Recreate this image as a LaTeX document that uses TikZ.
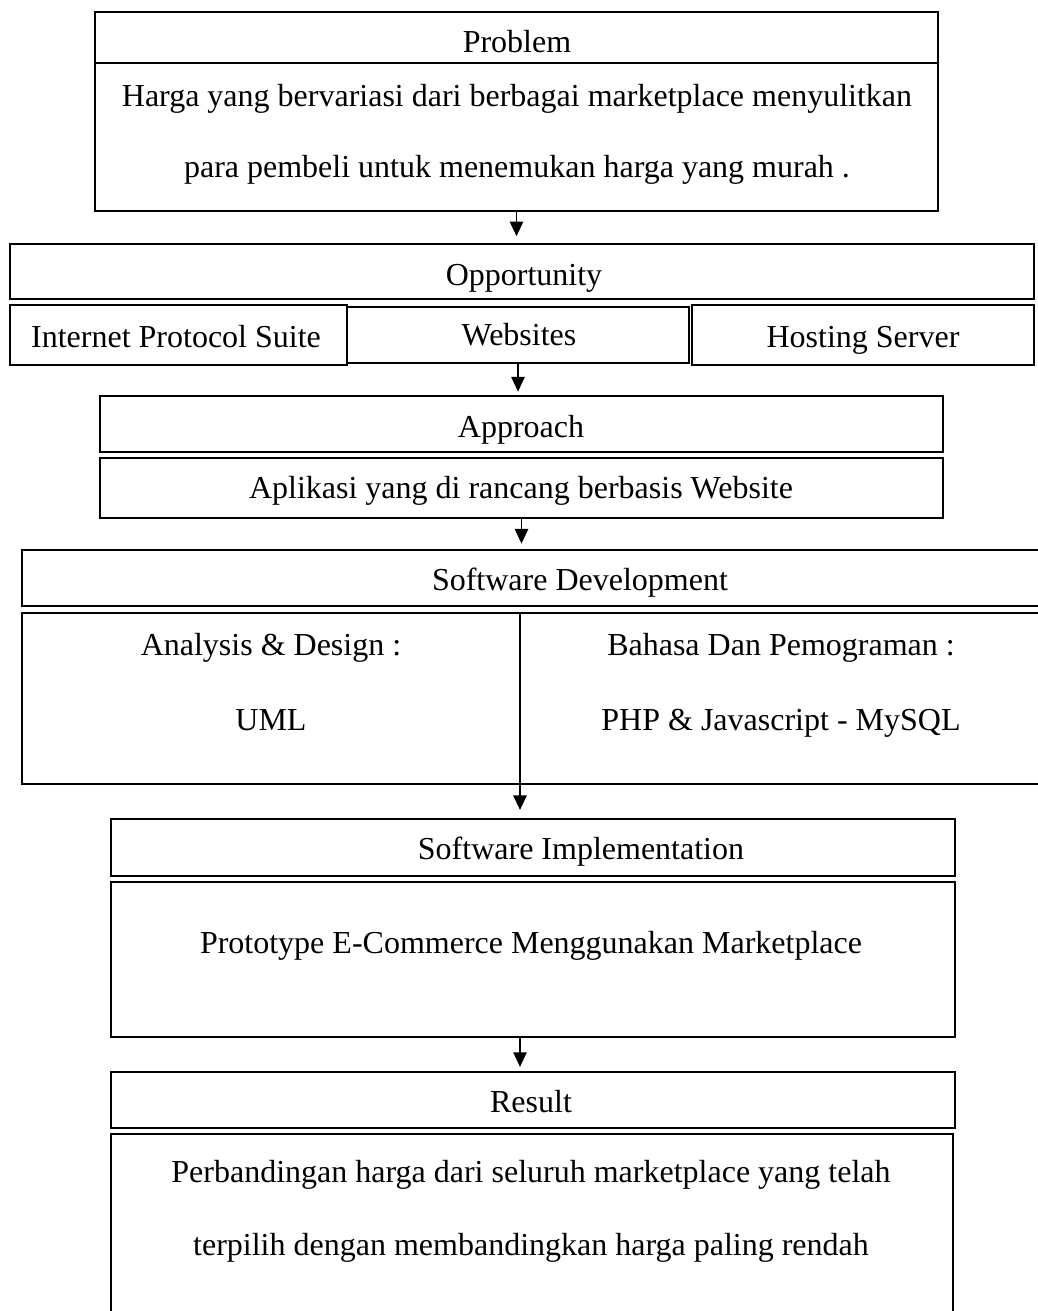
\documentclass[tikz,border=0pt]{standalone}
\usepackage{fontspec}
\setmainfont{Liberation Serif}
\usetikzlibrary{arrows.meta}

\begin{document}
\begin{tikzpicture}[x=0.75pt,y=-0.75pt,
  box/.style={draw=black,line width=1.6pt,inner sep=0pt},
  lbl/.style={anchor=base,font=\fontsize{24}{28}\selectfont},
  arr/.style={-{Triangle[length=11pt,width=10pt]},line width=1.2pt}]
\tikzstyle{every node}+=[inner sep=0pt]
\useasboundingbox (0,0) rectangle (1038,1311);
\node[box,minimum width=843*0.75pt,minimum height=51*0.75pt] (probhead) at (516.5,37.5) {};
\node[box,minimum width=843*0.75pt,minimum height=148*0.75pt] (probbody) at (516.5,137) {};
\node[box,minimum width=1024*0.75pt,minimum height=55*0.75pt] (opp) at (522,271.5) {};
\node[box,minimum width=337*0.75pt,minimum height=60*0.75pt] (ips) at (178.5,335) {};
\node[box,minimum width=342*0.75pt,minimum height=56*0.75pt] (web) at (518,335) {};
\node[box,minimum width=342*0.75pt,minimum height=60*0.75pt] (host) at (863,335) {};
\node[box,minimum width=843*0.75pt,minimum height=56*0.75pt] (appr) at (521.5,424) {};
\node[box,minimum width=843*0.75pt,minimum height=60*0.75pt] (apl) at (521.5,488) {};
\node[box,minimum width=1028*0.75pt,minimum height=56*0.75pt] (sdhead) at (536,578) {};
\node[box,minimum width=1028*0.75pt,minimum height=171*0.75pt] (sdbody) at (536,698.5) {};
\node[box,minimum width=844*0.75pt,minimum height=57*0.75pt] (sihead) at (533,847.5) {};
\node[box,minimum width=844*0.75pt,minimum height=155*0.75pt] (sibody) at (533,959.5) {};
\node[box,minimum width=844*0.75pt,minimum height=56*0.75pt] (reshead) at (533,1100) {};
\node[box,minimum width=842*0.75pt,minimum height=196*0.75pt] (resbody) at (532,1232) {};
\coordinate (split) at (520,613);
\node[lbl] (probt) at (517,52) {Problem};
\node[lbl] (probl1) at (517,106) {Harga yang bervariasi dari berbagai marketplace menyulitkan};
\node[lbl] (probl2) at (517,177) {para pembeli untuk menemukan harga yang murah .};
\node[lbl] (oppt) at (524,285) {Opportunity};
\node[lbl] (ipst) at (176,347) {Internet Protocol Suite};
\node[lbl] (webt) at (519,345) {Websites};
\node[lbl] (hostt) at (863,347) {Hosting Server};
\node[lbl] (apprt) at (521,437) {Approach};
\node[lbl] (aplt) at (521,498) {Aplikasi yang di rancang berbasis Website};
\node[lbl] (sdt) at (580,590) {Software Development};
\node[lbl] (ana1) at (271,655) {Analysis \& Design :};
\node[lbl] (ana2) at (271,730) {UML};
\node[lbl] (bhs1) at (781,655) {Bahasa Dan Pemograman :};
\node[lbl] (bhs2) at (781,730) {PHP \& Javascript - MySQL};
\node[lbl] (sit) at (581,859) {Software Implementation};
\node[lbl] (protot) at (531,953) {Prototype E-Commerce Menggunakan Marketplace};
\node[lbl] (rest) at (531,1112) {Result};
\node[lbl] (resl1) at (531,1182) {Perbandingan harga dari seluruh marketplace yang telah};
\node[lbl] (resl2) at (531,1255) {terpilih dengan membandingkan harga paling rendah};
\draw[arr,shorten >=5pt] (probbody.south) -- (probbody.south |- opp.north);
\draw[arr,shorten >=2.5pt] (web.south) -- (web.south |- appr.north);
\draw[arr,shorten >=4pt] (apl.south) -- (apl.south |- sdhead.north);
\draw[arr,line width=1.6pt,shorten >=6pt] (split) -- (split |- sihead.north);
\draw[arr,shorten >=3pt] (sibody.south -| split) -- (split |- reshead.north);
\end{tikzpicture}
\end{document}
